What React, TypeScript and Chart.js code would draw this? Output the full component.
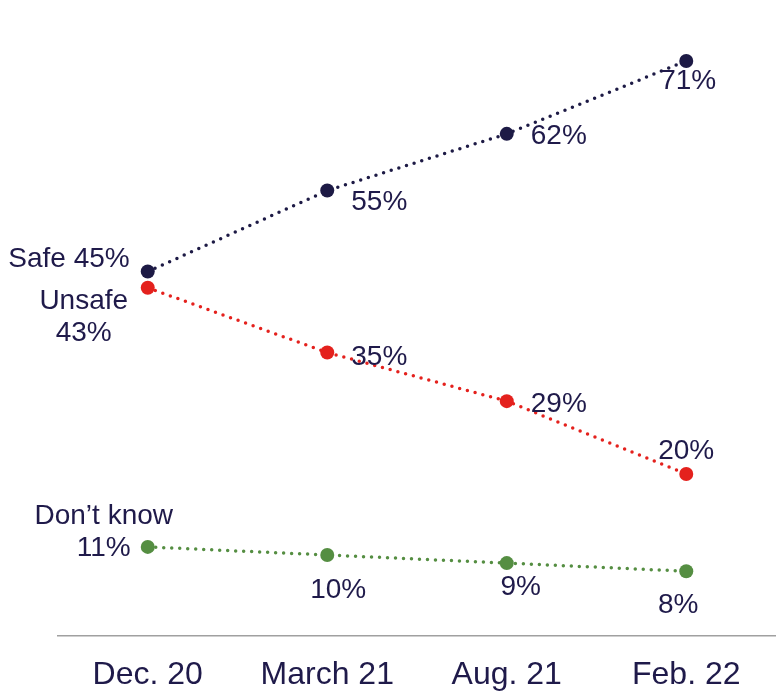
import React, { useEffect, useRef } from "react";
import { Chart, registerables } from "chart.js";

Chart.register(...registerables);

const categories = ["Dec. 20", "March 21", "Aug. 21", "Feb. 22"];
const safeValues = [45, 55, 62, 71];
const unsafeValues = [43, 35, 29, 20];
const dontKnowValues = [11, 10, 9, 8];
const seriesNames = ["Safe", "Unsafe", "Don\u2019t know"];

const TEXT = "#1f1a4a";
const FONT = "'Liberation Sans', Arial, sans-serif";

type Place = { align: CanvasTextAlign; dx: number; dy: number; lines?: "inline" | "stack" };
const placements: Place[][] = [
  [
    { align: "right", dx: -18, dy: -15, lines: "inline" },
    { align: "left", dx: 24, dy: 9 },
    { align: "left", dx: 24, dy: 0 },
    { align: "center", dx: 2, dy: 18 },
  ],
  [
    { align: "center", dx: -64, dy: 11, lines: "stack" },
    { align: "left", dx: 24, dy: 2 },
    { align: "left", dx: 24, dy: 1 },
    { align: "center", dx: 0, dy: -25 },
  ],
  [
    { align: "center", dx: -44, dy: -33, lines: "stack" },
    { align: "center", dx: 11, dy: 33 },
    { align: "center", dx: 14, dy: 22 },
    { align: "center", dx: -8, dy: 32 },
  ],
];

const labelPlugin = {
  id: "pointLabels",
  afterDatasetsDraw(chart: any) {
    const ctx = chart.ctx as CanvasRenderingContext2D;
    const size = 28;
    ctx.save();
    ctx.font = `${size}px ${FONT}`;
    ctx.fillStyle = TEXT;
    ctx.textBaseline = "alphabetic";
    chart.data.datasets.forEach((ds: any, di: number) => {
      const meta = chart.getDatasetMeta(di);
      meta.data.forEach((pt: any, i: number) => {
        const p = placements[di][i];
        const v = `${ds.data[i]}%`;
        const x = pt.x + p.dx;
        const base = pt.y + p.dy + size * 0.36;
        ctx.textAlign = p.align;
        if (p.lines === "inline") {
          ctx.fillText(`${seriesNames[di]} ${v}`, x, base);
        } else if (p.lines === "stack") {
          ctx.fillText(seriesNames[di], x, base);
          ctx.fillText(v, x, base + 32);
        } else {
          ctx.fillText(v, x, base);
        }
      });
    });
    ctx.restore();
  },
};

export default function App() {
  const ref = useRef<HTMLCanvasElement>(null);
  useEffect(() => {
    if (!ref.current) return;
    const mk = (label: string, data: number[], color: string) => ({
      label,
      data,
      borderColor: color,
      backgroundColor: color,
      pointBackgroundColor: color,
      pointBorderWidth: 0,
      pointRadius: 7,
      borderWidth: 3.5,
      borderDash: [0, 8],
      borderCapStyle: "round" as const,
      tension: 0,
      clip: false as any,
    });
    const chart = new Chart(ref.current, {
      type: "line",
      data: {
        labels: categories,
        datasets: [
          mk(seriesNames[0], safeValues, "#1d1a45"),
          mk(seriesNames[1], unsafeValues, "#e4211d"),
          mk(seriesNames[2], dontKnowValues, "#558e42"),
        ],
      },
      options: {
        responsive: false,
        animation: false,
        layout: { autoPadding: false, padding: { left: 58, right: -2, top: 0, bottom: 0 } },
        plugins: { legend: { display: false }, tooltip: { enabled: false } },
        scales: {
          x: {
            offset: true,
            grid: { display: false, drawTicks: false, tickLength: 0 },
            border: { display: true, color: "#a0a0a0", width: 1.5 },
            ticks: { color: TEXT, font: { family: FONT, size: 32 }, padding: 20 },
            afterFit: (scale: any) => {
              scale.height = 60;
              scale.paddingLeft = 0;
              scale.paddingRight = 0;
            },
          },
          y: { display: false, min: 0, max: 78.53 },
        },
      },
      plugins: [labelPlugin],
    });
    return () => chart.destroy();
  }, []);
  return (
    <div style={{ position: "absolute", left: 0, top: 0, width: 776, height: 696, background: "#fff", overflow: "hidden" }}>
      <canvas ref={ref} width={776} height={696} />
    </div>
  );
}
